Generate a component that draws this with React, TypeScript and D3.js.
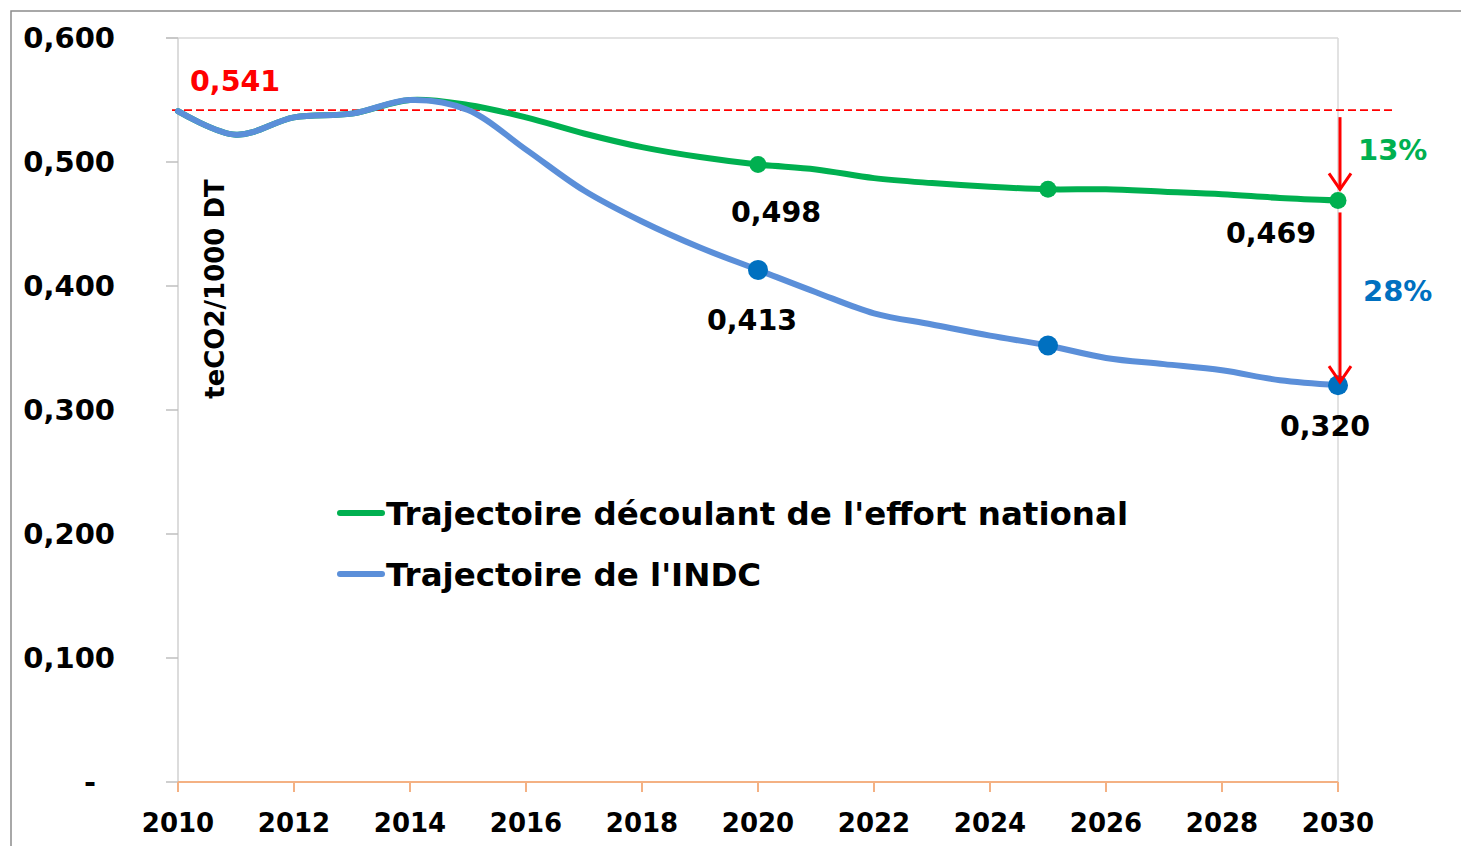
import React from "react";
import * as d3 from "d3";

const years = d3.range(2010, 2031);
const nationalValues = [0.541, 0.522, 0.536, 0.539, 0.55, 0.546, 0.536, 0.523, 0.512, 0.504, 0.498, 0.494, 0.487, 0.483, 0.48, 0.478, 0.478, 0.476, 0.474, 0.471, 0.469];
const indcValues = [0.541, 0.522, 0.536, 0.539, 0.55, 0.542, 0.51, 0.477, 0.452, 0.431, 0.413, 0.395, 0.378, 0.369, 0.36, 0.352, 0.342, 0.337, 0.332, 0.324, 0.32];
const markerYears = [2020, 2025, 2030];
const yTicks = [0, 0.1, 0.2, 0.3, 0.4, 0.5, 0.6];
const xTicks = d3.range(2010, 2031, 2);
const baseline = 0.541;
const labelNational = "Trajectoire découlant de l'effort national";
const labelIndc = "Trajectoire de l'INDC";

const W = 1461;
const H = 846;
const FONT = "'DejaVu Sans', sans-serif";
const GREEN = "#00B050";
const BLUE_LINE = "#5B8FD9";
const BLUE_DOT = "#0070C0";
const RED = "#FF0000";

const fmt = (v: number) => (v === 0 ? "-" : v.toFixed(3).replace(".", ","));

export default function App() {
  const x = d3.scaleLinear().domain([2010, 2030]).range([178, 1338]);
  const y = d3.scaleLinear().domain([0, 0.6]).range([782, 38]);

  const line = d3
    .line<number>()
    .x((_, i) => x(years[i]))
    .y((d) => y(d))
    .curve(d3.curveCatmullRom.alpha(0.5));

  const valAt = (arr: number[], yr: number) => arr[years.indexOf(yr)];

  const greenLabels = [
    { yr: 2020, dx: 18, dy: 47 },
    { yr: 2030, dx: -67, dy: 32 },
  ];
  const blueLabels = [
    { yr: 2020, dx: -6, dy: 50 },
    { yr: 2030, dx: -13, dy: 41 },
  ];

  const xEnd = x(2030) + 2;
  const yBase = y(baseline);
  const yG = y(valAt(nationalValues, 2030));
  const yB = y(valAt(indcValues, 2030));

  const arrows = [
    { y1: yBase + 6, y2: yG - 11 },
    { y1: yG + 12, y2: yB - 3 },
  ];

  return (
    <svg width={W} height={H} style={{ position: "absolute", left: 0, top: 0, background: "#fff" }} fontFamily={FONT}>
      {/* outer frame */}
      <rect x={11} y={11} width={W + 10} height={H + 10} fill="none" stroke="#8c8c8c" strokeWidth={1.5} />

      {/* plot frame lines */}
      <line x1={166} x2={x(2030)} y1={y(0.6)} y2={y(0.6)} stroke="#d9d9d9" strokeWidth={1.5} />
      <line x1={x(2030)} x2={x(2030)} y1={y(0.6)} y2={y(0)} stroke="#d9d9d9" strokeWidth={1.5} />
      <line x1={x(2010)} x2={x(2010)} y1={y(0.6)} y2={y(0)} stroke="#d0d0d0" strokeWidth={1.5} />

      {/* y axis ticks and labels */}
      {yTicks.map((t) => (
        <g key={t}>
          <line x1={166} x2={178} y1={y(t)} y2={y(t)} stroke="#bfbfbf" strokeWidth={1.5} />
          <text x={t === 0 ? 96 : 115} y={y(t)} dy="0.36em" textAnchor="end" fontSize={29} fontWeight={700} fill="#000">
            {fmt(t)}
          </text>
        </g>
      ))}

      {/* x axis */}
      <line x1={x(2010)} x2={x(2030)} y1={y(0)} y2={y(0)} stroke="#F4B183" strokeWidth={2} />
      {xTicks.map((t) => (
        <g key={t}>
          <line x1={x(t)} x2={x(t)} y1={y(0)} y2={y(0) + 10} stroke="#F4B183" strokeWidth={2} />
          <text x={x(t)} y={823} dy="0.36em" textAnchor="middle" fontSize={26} fontWeight={700} fill="#000">
            {t}
          </text>
        </g>
      ))}

      {/* y axis title */}
      <text transform={`translate(215,289) rotate(-90)`} dy="0.36em" textAnchor="middle" fontSize={26} fontWeight={700} fill="#000">
        teCO2/1000 DT
      </text>

      {/* baseline */}
      <line x1={172} x2={1395} y1={yBase - 1} y2={yBase - 1} stroke={RED} strokeWidth={1.8} strokeDasharray="8,4" />
      <text x={190} y={81} dy="0.36em" fontSize={28.5} fontWeight={700} fill={RED}>
        {fmt(baseline)}
      </text>

      {/* series */}
      <path d={line(nationalValues) ?? ""} fill="none" stroke={GREEN} strokeWidth={6} strokeLinecap="round" />
      <path d={line(indcValues) ?? ""} fill="none" stroke={BLUE_LINE} strokeWidth={6} strokeLinecap="round" />
      {markerYears.map((yr) => (
        <circle key={"g" + yr} cx={x(yr)} cy={y(valAt(nationalValues, yr))} r={8.5} fill={GREEN} />
      ))}
      {markerYears.map((yr) => (
        <circle key={"b" + yr} cx={x(yr)} cy={y(valAt(indcValues, yr))} r={10} fill={BLUE_DOT} />
      ))}

      {/* data labels */}
      {greenLabels.map((l) => (
        <text key={"gl" + l.yr} x={x(l.yr) + l.dx} y={y(valAt(nationalValues, l.yr)) + l.dy} dy="0.36em" textAnchor="middle" fontSize={28.5} fontWeight={700} fill="#000">
          {fmt(valAt(nationalValues, l.yr))}
        </text>
      ))}
      {blueLabels.map((l) => (
        <text key={"bl" + l.yr} x={x(l.yr) + l.dx} y={y(valAt(indcValues, l.yr)) + l.dy} dy="0.36em" textAnchor="middle" fontSize={28.5} fontWeight={700} fill="#000">
          {fmt(valAt(indcValues, l.yr))}
        </text>
      ))}

      {/* reduction arrows */}
      {arrows.map((a, i) => (
        <g key={"a" + i} stroke={RED} strokeWidth={3} fill="none">
          <line x1={xEnd} x2={xEnd} y1={a.y1} y2={a.y2} />
          <path d={`M${xEnd - 11},${a.y2 - 16} L${xEnd},${a.y2} L${xEnd + 11},${a.y2 - 16}`} strokeLinejoin="miter" />
        </g>
      ))}
      <text x={1358} y={150} dy="0.36em" fontSize={29} fontWeight={700} fill={GREEN}>13%</text>
      <text x={1363} y={291} dy="0.36em" fontSize={29} fontWeight={700} fill={BLUE_DOT}>28%</text>

      {/* legend */}
      <line x1={340} x2={382} y1={513} y2={513} stroke={GREEN} strokeWidth={6} strokeLinecap="round" />
      <text x={386} y={513} dy="0.36em" fontSize={32.5} fontWeight={700} fill="#000">{labelNational}</text>
      <line x1={340} x2={382} y1={574} y2={574} stroke={BLUE_LINE} strokeWidth={6} strokeLinecap="round" />
      <text x={386} y={574} dy="0.36em" fontSize={32.5} fontWeight={700} fill="#000">{labelIndc}</text>
    </svg>
  );
}
